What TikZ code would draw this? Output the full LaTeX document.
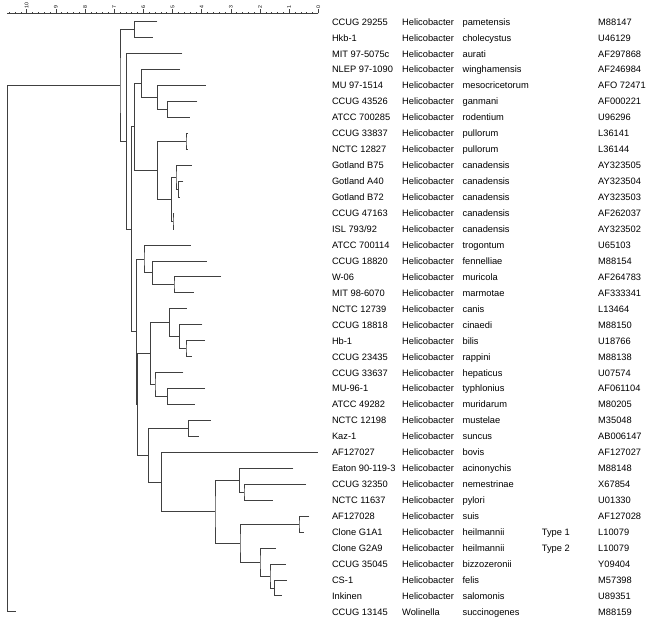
\documentclass[tikz,border=0pt]{standalone}
\usepackage{fontspec}
\setmainfont{Liberation Sans}
\usetikzlibrary{calc}
\tikzset{
  dendro/.style={draw=black!75, line width=0.85pt},
  rulerline/.style={draw=black!75, line width=0.6pt},
  lab/.style={anchor=base west, inner sep=0pt, font=\fontsize{9.3}{11}\selectfont},
  scalelab/.style={rotate=90, anchor=west, inner sep=0pt, font=\fontsize{5.2}{6}\selectfont}
}
\newcommand{\leafrow}[6]{%
  \pgfmathsetmacro{\rowy}{21.7+15.95*#1}%
  \coordinate (L#1) at (#2,\rowy);%
  \node[lab] (s#1) at (331.8,\rowy+3.4) {#3};%
  \node[lab] (g#1) at (402,\rowy+3.4) {#4};%
  \node[lab] (p#1) at (462.4,\rowy+3.4) {#5};%
  \node[lab] (a#1) at (598,\rowy+3.4) {#6};%
}
\newcommand{\jn}[4]{%
  \coordinate (#1m) at ($(#3)!0.5!(#4)$);%
  \coordinate (#1) at (#2,0 |- #1m);%
  \draw[dendro] (#3) -| (#1) |- (#4);%
}
\begin{document}
\begin{tikzpicture}[x=1pt,y=-1pt]
\useasboundingbox (0,0) rectangle (652,622);
% scale bar
\draw[rulerline] (7.3,13.3) -- (318.3,13.3);
\foreach \i in {0,...,53} {
  \pgfmathsetmacro\tx{318.3-\i*5.832}
  \draw[rulerline] (\tx,13.3) -- (\tx,11.7);
}
\foreach \n in {0,...,10} {
  \pgfmathsetmacro\tx{318.3-\n*29.16}
  \draw[rulerline] (\tx,13.3) -- (\tx,9.3);
  \node[scalelab] (sc\n) at (\tx,8.6) {\n};
}
% leaves and labels
\leafrow{0}{157.3}{CCUG 29255}{Helicobacter}{pametensis}{M88147}
\leafrow{1}{152.7}{Hkb-1}{Helicobacter}{cholecystus}{U46129}
\leafrow{2}{182.3}{MIT 97-5075c}{Helicobacter}{aurati}{AF297868}
\leafrow{3}{180}{NLEP 97-1090}{Helicobacter}{winghamensis}{AF246984}
\leafrow{4}{205.7}{MU 97-1514}{Helicobacter}{mesocricetorum}{AFO 72471}
\leafrow{5}{197.3}{CCUG 43526}{Helicobacter}{ganmani}{AF000221}
\leafrow{6}{190}{ATCC 700285}{Helicobacter}{rodentium}{U96296}
\leafrow{7}{187.5}{CCUG 33837}{Helicobacter}{pullorum}{L36141}
\leafrow{8}{187.5}{NCTC 12827}{Helicobacter}{pullorum}{L36144}
\leafrow{9}{191.7}{Gotland B75}{Helicobacter}{canadensis}{AY323505}
\leafrow{10}{183.3}{Gotland A40}{Helicobacter}{canadensis}{AY323504}
\leafrow{11}{179.5}{Gotland B72}{Helicobacter}{canadensis}{AY323503}
\leafrow{12}{174.3}{CCUG 47163}{Helicobacter}{canadensis}{AF262037}
\leafrow{13}{173.8}{ISL 793/92}{Helicobacter}{canadensis}{AY323502}
\leafrow{14}{190.7}{ATCC 700114}{Helicobacter}{trogontum}{U65103}
\leafrow{15}{206.7}{CCUG 18820}{Helicobacter}{fennelliae}{M88154}
\leafrow{16}{221}{W-06}{Helicobacter}{muricola}{AF264783}
\leafrow{17}{194}{MIT 98-6070}{Helicobacter}{marmotae}{AF333341}
\leafrow{18}{186.7}{NCTC 12739}{Helicobacter}{canis}{L13464}
\leafrow{19}{202.3}{CCUG 18818}{Helicobacter}{cinaedi}{M88150}
\leafrow{20}{205}{Hb-1}{Helicobacter}{bilis}{U18766}
\leafrow{21}{192.3}{CCUG 23435}{Helicobacter}{rappini}{M88138}
\leafrow{22}{183.3}{CCUG 33637}{Helicobacter}{hepaticus}{U07574}
\leafrow{23}{205}{MU-96-1}{Helicobacter}{typhlonius}{AF061104}
\leafrow{24}{195}{ATCC 49282}{Helicobacter}{muridarum}{M80205}
\leafrow{25}{210.7}{NCTC 12198}{Helicobacter}{mustelae}{M35048}
\leafrow{26}{199.3}{Kaz-1}{Helicobacter}{suncus}{AB006147}
\leafrow{27}{317.7}{AF127027}{Helicobacter}{bovis}{AF127027}
\leafrow{28}{293.3}{Eaton 90-119-3}{Helicobacter}{acinonychis}{M88148}
\leafrow{29}{306}{CCUG 32350}{Helicobacter}{nemestrinae}{X67854}
\leafrow{30}{273.3}{NCTC 11637}{Helicobacter}{pylori}{U01330}
\leafrow{31}{309.3}{AF127028}{Helicobacter}{suis}{AF127028}
\leafrow{32}{304}{Clone G1A1}{Helicobacter}{heilmannii}{L10079}
\leafrow{33}{275.7}{Clone G2A9}{Helicobacter}{heilmannii}{L10079}
\leafrow{34}{285.7}{CCUG 35045}{Helicobacter}{bizzozeronii}{Y09404}
\leafrow{35}{286.7}{CS-1}{Helicobacter}{felis}{M57398}
\leafrow{36}{281.7}{Inkinen}{Helicobacter}{salomonis}{U89351}
\leafrow{37}{16}{CCUG 13145}{Wolinella}{succinogenes}{M88159}
\node[lab] (ty32) at (541.7,{21.7+15.95*32+3.4}) {Type 1};
\node[lab] (ty33) at (541.7,{21.7+15.95*33+3.4}) {Type 2};
% internal nodes
\jn{A}{134.3}{L0}{L1}
\jn{W1}{167.3}{L5}{L6}
\jn{W2}{157.3}{L4}{W1}
\jn{W3}{141.7}{L3}{W2}
\jn{P1}{186}{L7}{L8}
\jn{C1}{178.3}{L10}{L11}
\jn{C2}{176}{L9}{C1}
\jn{C3}{173}{L12}{L13}
\jn{C4}{171.7}{C2}{C3}
\jn{C5}{157.5}{P1}{C4}
\jn{N2}{134.3}{W3}{C5}
\jn{T1}{174}{L16}{L17}
\jn{T2}{152.7}{L15}{T1}
\jn{T3}{144}{L14}{T2}
\jn{B1}{186}{L20}{L21}
\jn{B2}{179.3}{L19}{B1}
\jn{B3}{169.3}{L18}{B2}
\jn{H1}{167.3}{L23}{L24}
\jn{H2}{155}{L22}{H1}
\jn{B4}{150.7}{B3}{H2}
\jn{M1}{188.3}{L25}{L26}
\jn{Y1}{244}{L29}{L30}
\jn{Y2}{239.3}{L28}{Y1}
\jn{S1}{299}{L31}{L32}
\jn{F1}{274.3}{L35}{L36}
\jn{F2}{270}{L34}{F1}
\jn{F3}{260}{L33}{F2}
\jn{F4}{240}{S1}{F3}
\jn{G1}{215}{Y2}{F4}
\jn{G2}{161.7}{L27}{G1}
\jn{M2}{148.3}{M1}{G2}
\jn{Q}{137.3}{B4}{M2}
\jn{P}{136.7}{T3}{Q}
\jn{X}{131.7}{N2}{P}
\jn{N1}{126.7}{L2}{X}
\jn{HEL}{120}{A}{N1}
\jn{ROOT}{7.3}{HEL}{L37}
\end{tikzpicture}
\end{document}
